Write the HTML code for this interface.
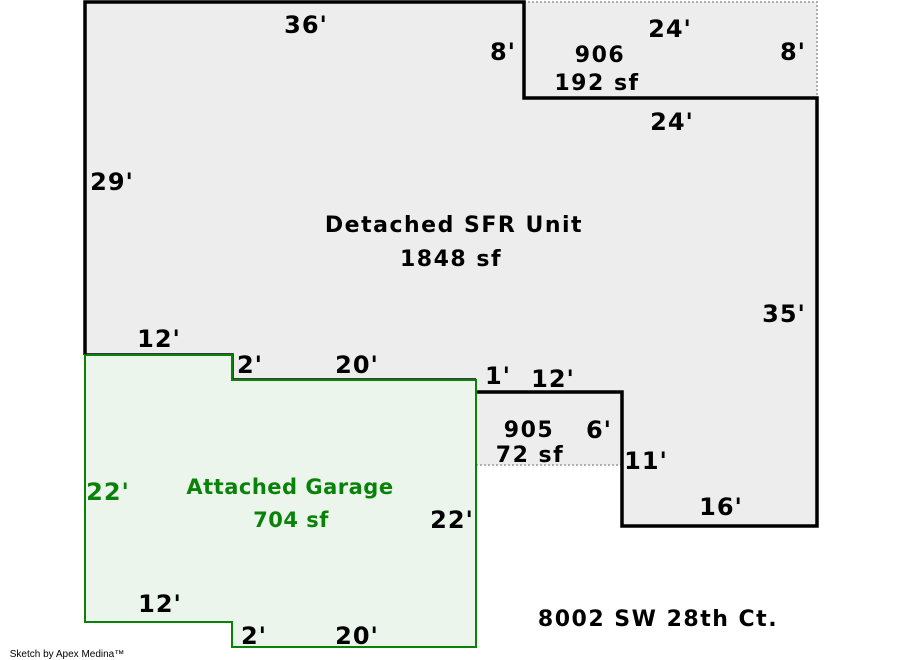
<!DOCTYPE html>
<html><head><style>
html,body{margin:0;padding:0;background:#fff;}
svg{display:block;}
text{font-family:"DejaVu Sans","Liberation Sans",sans-serif;font-weight:bold;font-size:22px;letter-spacing:1.5px;fill:#000;text-anchor:middle;}
.d{font-size:24px;letter-spacing:1px;}
.g{fill:#0a820a;}
.gl{font-size:21px;letter-spacing:0.5px;}
</style></head><body>
<svg width="900" height="660" viewBox="0 0 900 660">
<rect x="524" y="2" width="293" height="96" fill="#ededed"/>
<path d="M524 2 H817 V98" fill="none" stroke="#999" stroke-width="1.5" stroke-dasharray="2,2"/>
<path d="M85 2 H524 V98 H817 V526 H622 V392 H476 V380 H232 V355 H85 Z" fill="#ededed"/>
<rect x="476" y="390" width="148" height="75" fill="#ededed"/>
<path d="M476 465 H622" fill="none" stroke="#999" stroke-width="1.5" stroke-dasharray="2,2"/>
<path d="M85 355 V2 H524 V98 H817 V526 H622 V392 H476" fill="none" stroke="#000" stroke-width="3.5"/>
<path d="M85 355 H232 V380 H476" fill="none" stroke="#000" stroke-width="3.5"/>
<path d="M85 355 H232 V380 H476 V647 H232 V622 H85 Z" fill="#ecf5ec" stroke="#0a820a" stroke-width="2"/>

<text class="d" x="306" y="33">36'</text>
<text class="d" x="503" y="60">8'</text>
<text x="600" y="62">906</text>
<text x="597" y="90">192 sf</text>
<text class="d" x="670" y="37">24'</text>
<text class="d" x="793" y="60">8'</text>
<text class="d" x="672" y="130">24'</text>
<text class="d" x="112" y="190">29'</text>
<text x="454" y="232">Detached SFR Unit</text>
<text x="451" y="266">1848 sf</text>
<text class="d" x="784" y="322">35'</text>
<text class="d" x="159" y="347">12'</text>
<text class="d" x="250" y="373">2'</text>
<text class="d" x="357" y="373">20'</text>
<text class="d" x="498" y="384">1'</text>
<text class="d" x="553" y="387">12'</text>
<text x="529" y="437">905</text>
<text x="530" y="462">72 sf</text>
<text class="d" x="599" y="438">6'</text>
<text class="d" x="646" y="469">11'</text>
<text class="d" x="721" y="515">16'</text>
<text x="108" y="500" class="g d">22'</text>
<text x="290" y="494" class="g gl">Attached Garage</text>
<text x="291" y="527" class="g gl">704 sf</text>
<text class="d" x="452" y="528">22'</text>
<text class="d" x="160" y="612">12'</text>
<text class="d" x="254" y="644">2'</text>
<text class="d" x="357" y="644">20'</text>
<text x="658" y="626">8002 SW 28th Ct.</text>
<text x="67" y="657" style="font-size:10px;font-weight:normal;letter-spacing:0;font-family:'Liberation Sans',sans-serif">Sketch by Apex Medina™</text>
</svg>
</body></html>
